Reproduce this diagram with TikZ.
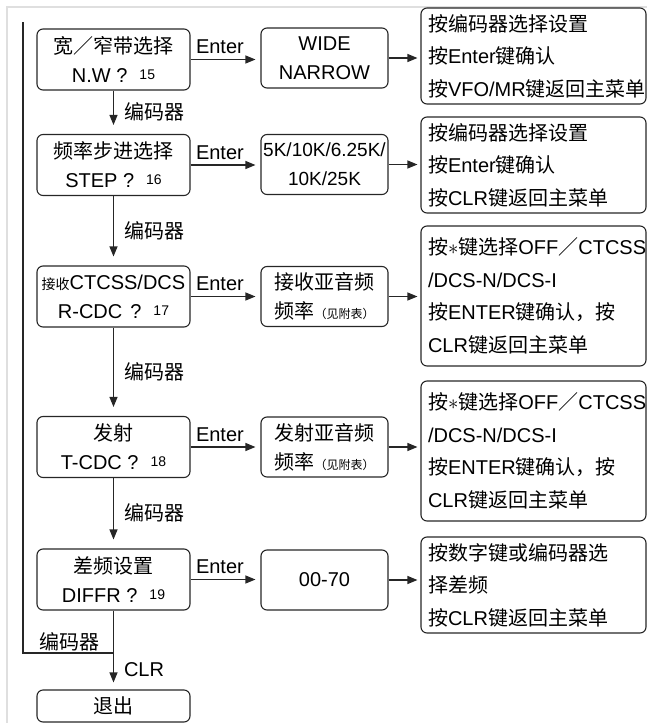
\documentclass[tikz,border=0pt]{standalone}
\usepackage{fontspec}
\setmainfont{Liberation Sans}
\newfontfamily\cjk{Noto Sans CJK SC}
\newcommand{\zh}[1]{{\cjk #1}}
\newcommand{\menuno}[1]{\raisebox{3pt}{\fontsize{14}{14}\selectfont #1}}
\usetikzlibrary{arrows.meta}

\begin{document}
\begin{tikzpicture}[x=1pt,y=-1pt,
  wire/.style={draw=black!85,line width=1.1pt},
  flow/.style={wire,-{Triangle[length=10pt,width=8pt]}},
  box/.style={wire,rounded corners=6pt,inner sep=0pt,align=center,font=\fontsize{20}{29}\selectfont},
  menubox/.style={box,minimum width=153pt,minimum height=61pt},
  valbox/.style={box,minimum width=127pt,minimum height=60pt},
  helpbox/.style={box,minimum width=225pt,text width=211pt,align=left,font=\fontsize{20}{32.5}\selectfont},
  lbl/.style={inner sep=1pt,font=\fontsize{20}{24}\selectfont}]
\useasboundingbox (0,0) rectangle (647,723);
\draw[gray!25,line width=2pt] (7,723) -- (7,7) -- (647,7);
% menu column
\node[menubox] (nw) at (113.5,59.5) {\zh{宽／窄带选择}\\N.W ?\hspace{12pt}\menuno{15}};
\node[menubox] (step) at (113.5,165) {\zh{频率步进选择}\\STEP ?\hspace{12pt}\menuno{16}};
\node[menubox] (rcdc) at (113.5,296.5) {{\fontsize{14}{14}\selectfont\cjk 接收}CTCSS/DCS\\R-CDC\hspace{8pt}?\hspace{12pt}\menuno{17}};
\node[menubox] (tcdc) at (113.5,447) {\zh{发射}\\T-CDC ?\hspace{12pt}\menuno{18}};
\node[menubox] (diffr) at (113.5,579.5) {\zh{差频设置}\\DIFFR ?\hspace{12pt}\menuno{19}};
\node[menubox,minimum height=32pt] (quit) at (113.5,706) {\zh{退出}};
% values
\node[valbox] (wide) at (324.5,58) {WIDE\\NARROW};
\node[valbox,font=\fontsize{19}{29}\selectfont] (steps) at (324.5,164.5) {5K/10K/6.25K/\\10K/25K};
\node[valbox] (rtone) at (324.5,296.5) {\zh{接收亚音频}\\\zh{频率}{\fontsize{12}{12}\selectfont\cjk （见附表）}};
\node[valbox] (ttone) at (324.5,447) {\zh{发射亚音频}\\\zh{频率}{\fontsize{12}{12}\selectfont\cjk （见附表）}};
\node[valbox] (offset) at (324.5,580) {00-70};
% help texts
\node[helpbox,minimum height=96pt] (nwhelp) at (533.5,56) {\zh{按编码器选择设置}\\\zh{按}Enter\zh{键确认}\\\zh{按}VFO/MR\zh{键返回主菜单}};
\node[helpbox,minimum height=96pt] (stephelp) at (533.5,165) {\zh{按编码器选择设置}\\\zh{按}Enter\zh{键确认}\\\zh{按}CLR\zh{键返回主菜单}};
\node[helpbox,minimum height=140pt] (rhelp) at (533.5,296) {\zh{按}$\ast$\zh{键选择}OFF\zh{／}CTCSS\\/DCS-N/DCS-I\\\zh{按}ENTER\zh{键确认，按}\\CLR\zh{键返回主菜单}};
\node[helpbox,minimum height=140pt] (thelp) at (533.5,451) {\zh{按}$\ast$\zh{键选择}OFF\zh{／}CTCSS\\/DCS-N/DCS-I\\\zh{按}ENTER\zh{键确认，按}\\CLR\zh{键返回主菜单}};
\node[helpbox,minimum height=96pt] (diffhelp) at (533.5,585) {\zh{按数字键或编码器选}\\\zh{择差频}\\\zh{按}CLR\zh{键返回主菜单}};
% connectors
\foreach \a/\b/\c in {nw/wide/nwhelp,step/steps/stephelp,rcdc/rtone/rhelp,tcdc/ttone/thelp,diffr/offset/diffhelp}{
  \draw[flow,shorten >=5pt] (\a.east) -- node[lbl,above=4pt,pos=0.42]{Enter} (\a.east -| \b.west);
  \draw[flow,shorten >=3pt] (\b.east) -- (\b.east -| \c.west);
}
\foreach \a/\b in {nw/step,step/rcdc,rcdc/tcdc,tcdc/diffr}
  \draw[flow,shorten >=9pt] (\a) -- node[lbl,right=9pt]{\zh{编码器}} (\b);
\coordinate (loop) at (23,22);
\coordinate (join) at (113.5,653);
\draw[wire] (loop) |- node[lbl,above,pos=0.755]{\zh{编码器}} (join);
\draw[flow,shorten >=7pt] (diffr) -- node[lbl,right=9pt,pos=0.75]{CLR} (quit);
\end{tikzpicture}
\end{document}
